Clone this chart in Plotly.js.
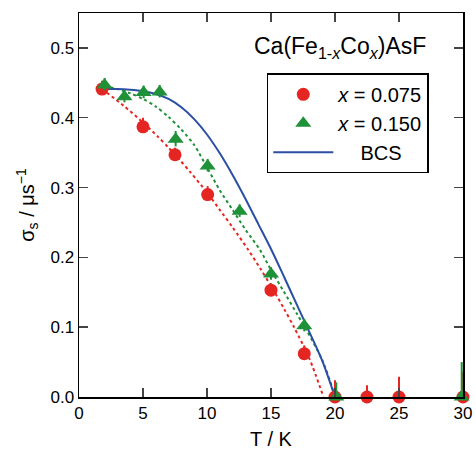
<!DOCTYPE html>
<html>
<head>
<meta charset="utf-8">
<script src="https://cdn.plot.ly/plotly-3.0.1.min.js"></script>
<style>html,body{margin:0;padding:0;background:#fff}</style>
</head>
<body>
<div id="chart" style="width:476px;height:450px"></div>
<script>
// Data: x = 0.075
const redT   = [1.8, 5.0, 7.5, 10.05, 15.0, 17.6, 20.0, 22.5, 25.0, 30.0];
const redS   = [0.441, 0.387, 0.347, 0.290, 0.153, 0.062, 0.0, 0.0, 0.0, 0.0];
const redErrUp   = [0.012, 0.013, 0.010, 0.012, 0.010, 0.012, 0.024, 0.017, 0.029, 0.036];
const redErrDown = [0.006, 0.006, 0.006, 0.006, 0.006, 0.006, 0.0, 0.0, 0.0, 0.0];

// Data: x = 0.150
const greenT = [2.0, 3.55, 5.05, 6.3, 7.55, 10.05, 12.55, 15.0, 17.6, 20.1, 29.9];
const greenS = [0.447, 0.430, 0.436, 0.437, 0.369, 0.331, 0.266, 0.176, 0.102, 0.0, 0.0];
const greenErrUp   = [0.010, 0.010, 0.010, 0.010, 0.012, 0.010, 0.010, 0.010, 0.010, 0.021, 0.050];
const greenErrDown = [0.008, 0.008, 0.008, 0.008, 0.010, 0.008, 0.008, 0.008, 0.008, 0.0, 0.0];

// Fit curves
const redFitT = [1.8, 3.5, 5, 6.1, 7, 7.9, 8.7, 10, 11, 12, 13.25, 14.2, 15, 16, 16.8, 18, 19.1];
const redFitS = [0.441, 0.417, 0.393, 0.374, 0.357, 0.339, 0.322, 0.293, 0.268, 0.243, 0.21, 0.183, 0.159, 0.127, 0.1, 0.055, 0.0];
const greenFitT = [2, 3, 4, 5, 6, 7, 8, 9, 10, 11, 12, 13, 14.16, 15, 16, 17, 17.8, 19, 19.77, 19.95];
const greenFitS = [0.445, 0.441, 0.435, 0.427, 0.416, 0.401, 0.383, 0.361, 0.329, 0.296, 0.268, 0.240, 0.21, 0.182, 0.151, 0.12, 0.095, 0.053, 0.014, 0.0];
const bcsT = [2, 3, 4, 5, 6, 7, 8, 9, 10, 11, 12, 13, 14, 15, 16, 17, 18, 19, 20];
const bcsS = [0.441, 0.441, 0.440, 0.438, 0.434, 0.427, 0.415, 0.398, 0.376, 0.349, 0.318, 0.284, 0.248, 0.212, 0.173, 0.133, 0.093, 0.052, 0.0];

const xTicks = [0, 5, 10, 15, 20, 25, 30];
const yTicks = [0, 0.1, 0.2, 0.3, 0.4, 0.5];
const yTickText = ['0.0', '0.1', '0.2', '0.3', '0.4', '0.5'];

const RED = '#e52521', GREEN = '#1f9139', BLUE = '#2a4fa3';
const FONT = '"Liberation Sans", Arial, Helvetica, sans-serif';

const traces = [
  {x: redFitT, y: redFitS, mode: 'lines', line: {color: RED, width: 2, dash: 'dot', shape: 'spline', smoothing: 0.8}, showlegend: false, hoverinfo: 'skip'},
  {x: greenFitT, y: greenFitS, mode: 'lines', line: {color: GREEN, width: 2, dash: 'dot', shape: 'spline', smoothing: 0.8}, showlegend: false, hoverinfo: 'skip'},
  {x: bcsT, y: bcsS, mode: 'lines', line: {color: BLUE, width: 2, shape: 'spline', smoothing: 0.8}, showlegend: false},
  {x: redT, y: redS, mode: 'markers', name: '<i>x</i> = 0.075',
   marker: {color: RED, size: 13, symbol: 'circle'},
   error_y: {type: 'data', symmetric: false, array: redErrUp, arrayminus: redErrDown, color: RED, thickness: 2, width: 0},
   cliponaxis: false},
  {x: greenT, y: greenS, mode: 'markers', name: '<i>x</i> = 0.150',
   marker: {color: GREEN, size: 14, symbol: 'triangle-up'},
   error_y: {type: 'data', symmetric: false, array: greenErrUp, arrayminus: greenErrDown, color: GREEN, thickness: 2, width: 0},
   cliponaxis: false},
  {x: [null], y: [null], mode: 'lines', name: '&nbsp;&nbsp;&nbsp;&nbsp;BCS', line: {color: BLUE, width: 2}}
];

const layout = {
  width: 476, height: 450,
  margin: {l: 79, r: 13, t: 13, b: 53},
  paper_bgcolor: '#fff', plot_bgcolor: '#fff',
  font: {family: FONT, color: '#000', size: 17},
  showlegend: true,
  legend: {x: 0.489, y: 0.843, xanchor: 'left', yanchor: 'top',
           bordercolor: '#000', borderwidth: 1.5, bgcolor: '#fff',
           font: {family: FONT, size: 20, color: '#000'},
           itemwidth: 60, tracegroupgap: 0},
  xaxis: {range: [0, 30], tickvals: xTicks, ticks: 'inside', ticklen: 9, tickwidth: 1.5,
          showline: true, linecolor: '#000', linewidth: 1.5, mirror: 'ticks',
          showgrid: false, zeroline: false, tickfont: {size: 17},
          title: {text: 'T / K', font: {size: 20}, standoff: 11}},
  yaxis: {range: [0, 0.55], tickvals: yTicks, ticktext: yTickText, ticks: 'inside', ticklen: 9, tickwidth: 1.5,
          showline: true, linecolor: '#000', linewidth: 1.5, mirror: 'ticks',
          showgrid: false, zeroline: false, tickfont: {size: 17},
          title: {text: 'σ<sub>s</sub> / μs<sup>−1</sup>', font: {size: 20}, standoff: 10}},
  annotations: [
    {xref: 'paper', yref: 'paper', x: 0.908, y: 0.91, xanchor: 'right', yanchor: 'middle',
     text: 'Ca(Fe<sub>1-<i>x</i></sub>Co<sub><i>x</i></sub>)AsF', showarrow: false,
     font: {family: FONT, size: 23, color: '#000'}}
  ]
};

Plotly.newPlot('chart', traces, layout, {staticPlot: true, displayModeBar: false});
</script>
</body>
</html>
